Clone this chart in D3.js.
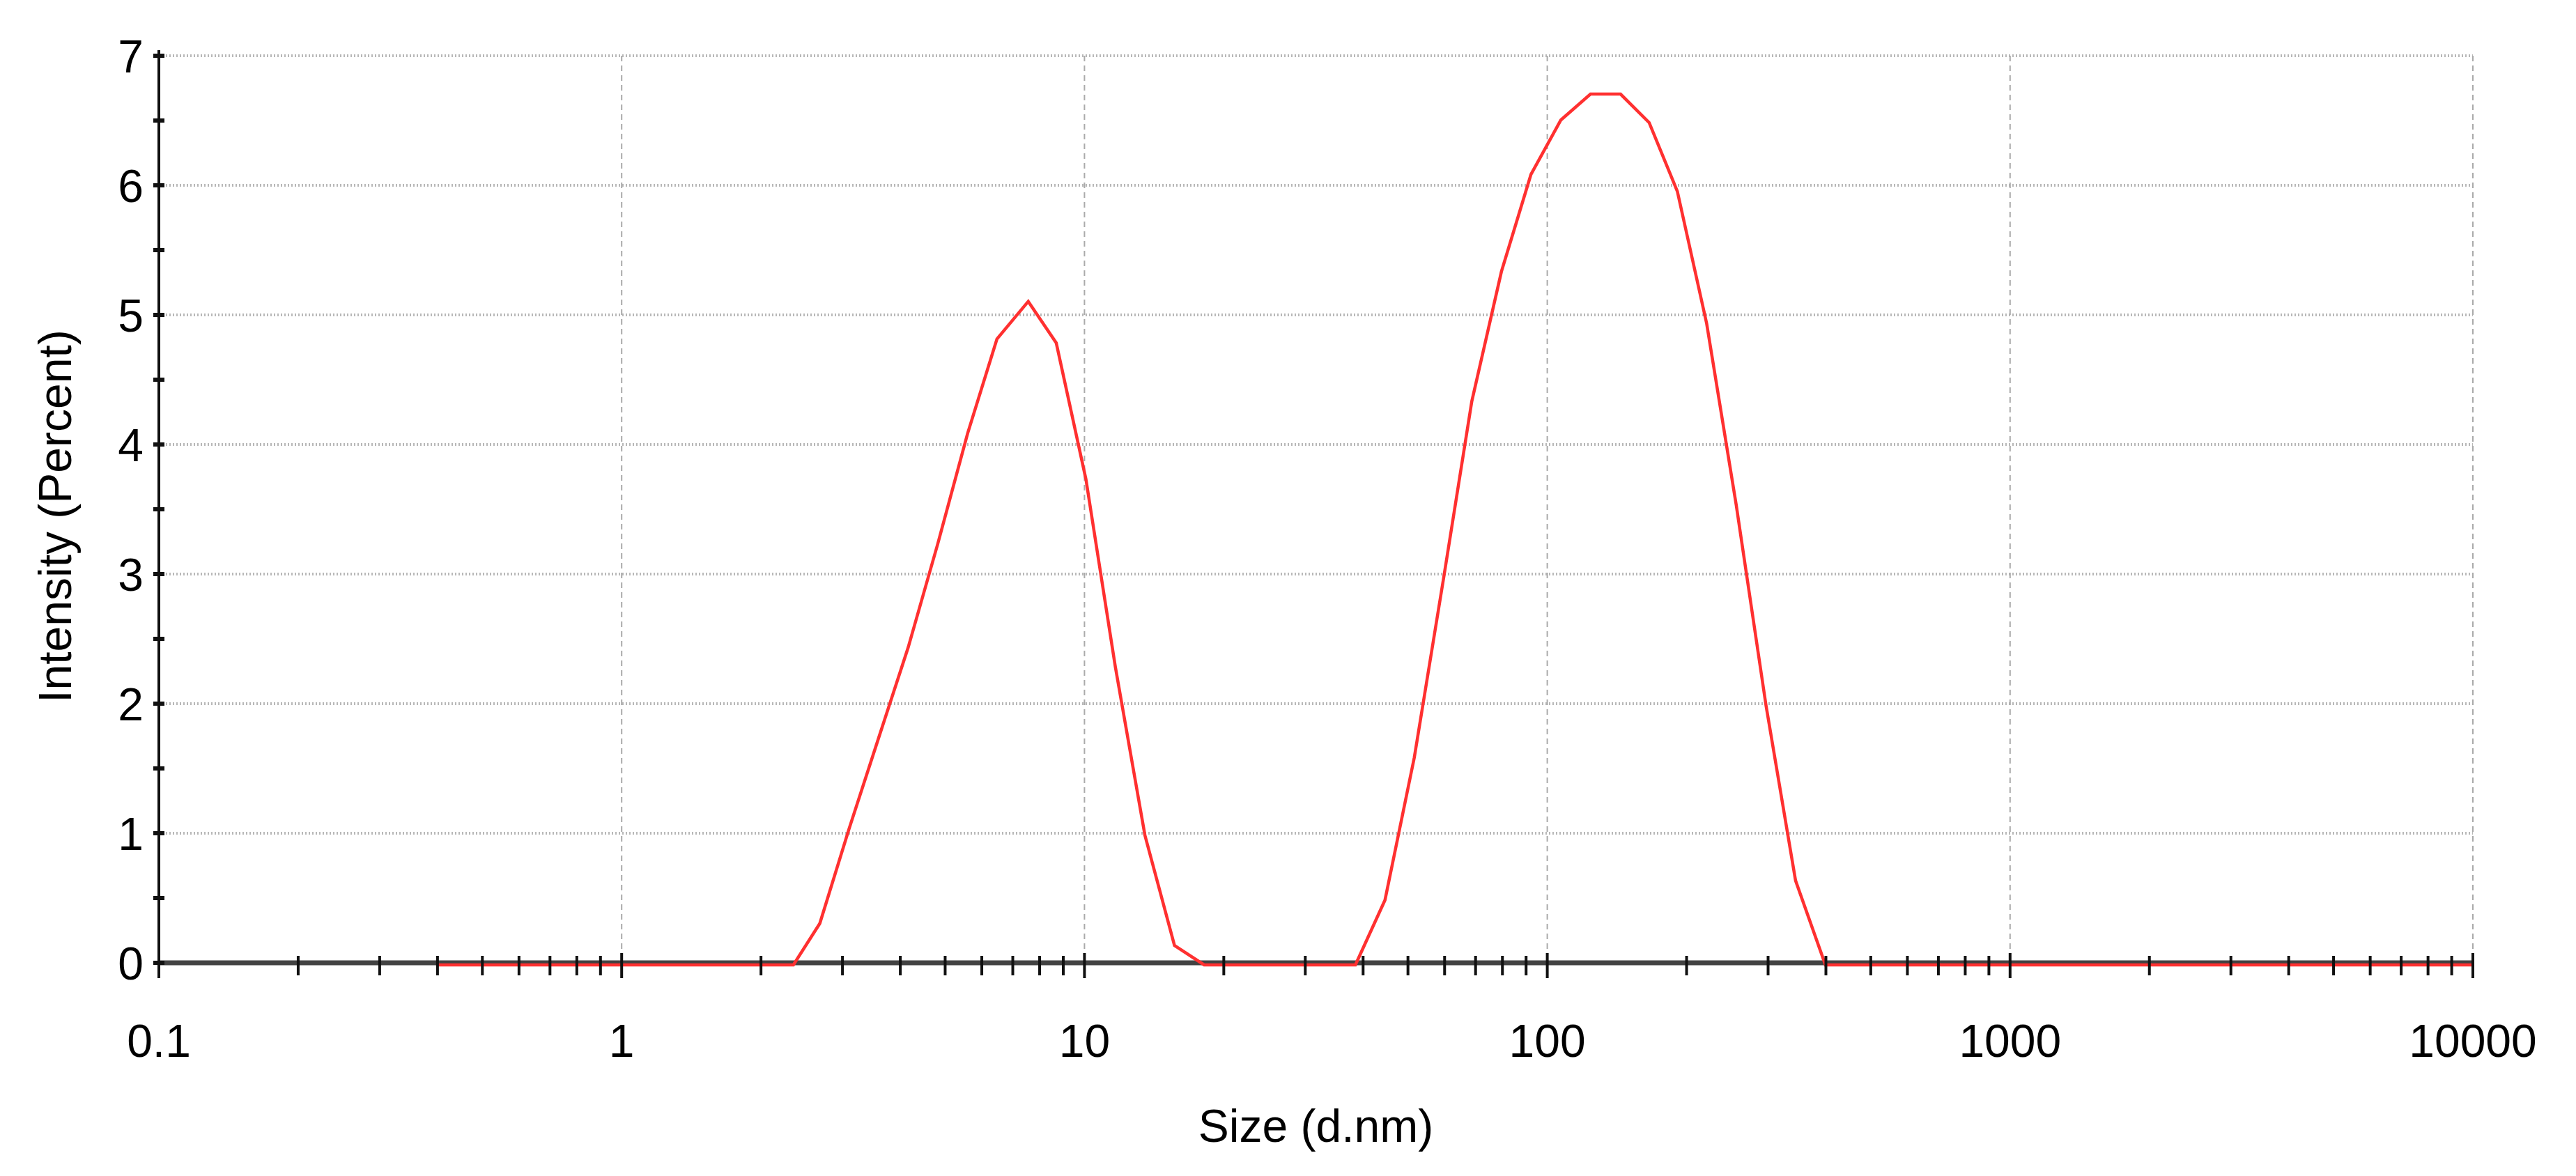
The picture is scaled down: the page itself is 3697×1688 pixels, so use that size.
<!DOCTYPE html>
<html><head><meta charset="utf-8">
<script src="https://cdn.jsdelivr.net/npm/d3@7"></script>
<style>body{margin:0;background:#fff}</style></head>
<body><svg id="c" width="3697" height="1688"></svg>
<script>
const sizes = [0.4,2.35,2.68,3.10,3.59,4.16,4.82,5.59,6.47,7.56,8.69,10.07,11.66,13.51,15.65,18.14,38.5,44.6,51.6,59.8,68.7,79.6,92.2,107,124,144,166,191,221,256,297,344,399,10000];
const intensity = [0,0,0.32,1.05,1.75,2.45,3.25,4.1,4.83,5.12,4.8,3.75,2.3,1.0,0.15,0,0,0.5,1.6,3.0,4.35,5.35,6.1,6.52,6.72,6.72,6.5,5.97,4.95,3.55,2.0,0.65,0,0];
const xTicks = [0.1,1,10,100,1000,10000];
const xTickLabels = ["0.1","1","10","100","1000","10000"];
const yTicks = [0,1,2,3,4,5,6,7];

const svg = d3.select("#c");
const L=228,R=3549,T=80,B=1382;
const x = d3.scaleLog().domain([0.1,10000]).range([L,R]);
const y = d3.scaleLinear().domain([0,7]).range([B,T]);
const font="Liberation Sans, Arial, sans-serif";

svg.append("g").selectAll("line").data(yTicks.slice(1)).join("line")
  .attr("x1",L).attr("x2",R).attr("y1",d=>y(d)).attr("y2",d=>y(d))
  .attr("stroke","#b8b8b8").attr("stroke-width",4).attr("stroke-dasharray","2,3");
svg.append("g").selectAll("line").data(xTicks.slice(1)).join("line")
  .attr("x1",d=>x(d)).attr("x2",d=>x(d)).attr("y1",T).attr("y2",B)
  .attr("stroke","#aaa").attr("stroke-width",2).attr("stroke-dasharray","8,6");

svg.append("line").attr("x1",L).attr("x2",R).attr("y1",B).attr("y2",B).attr("stroke","#222").attr("stroke-width",7).attr("opacity",0.85);
svg.append("path").datum(sizes.map((s,i)=>[s,intensity[i]]))
  .attr("d",d3.line().x(d=>x(d[0])).y(d=>y(d[1])))
  .attr("fill","none").attr("stroke","#ff3030").attr("stroke-width",4.5).attr("transform","translate(0,3)");
svg.append("line").attr("x1",L).attr("x2",L).attr("y1",T-8).attr("y2",B+22).attr("stroke","#111").attr("stroke-width",4);

const minor=[];
for(let e=-1;e<4;e++)for(let m=1;m<10;m++)minor.push(m*Math.pow(10,e));
minor.push(10000);
svg.append("g").selectAll("line").data(minor).join("line")
  .attr("x1",d=>x(d)).attr("x2",d=>x(d))
  .attr("y1",d=>xTicks.includes(d)?B-14:B-10).attr("y2",d=>xTicks.includes(d)?B+22:B+18)
  .attr("stroke","#111").attr("stroke-width",4);
svg.append("g").selectAll("line").data(d3.range(0,7.01,0.5)).join("line")
  .attr("x1",L-8).attr("x2",L+8).attr("y1",d=>y(d)).attr("y2",d=>y(d))
  .attr("stroke","#111").attr("stroke-width",6);

svg.append("g").selectAll("text").data(yTicks).join("text")
  .attr("x",L-22).attr("y",d=>y(d)).attr("dy","0.36em").attr("text-anchor","end")
  .attr("font-family",font).attr("font-size",66).text(d=>d);
svg.append("g").selectAll("text").data(xTicks).join("text")
  .attr("x",d=>x(d)).attr("y",1493).attr("dy","0.36em").attr("text-anchor","middle")
  .attr("font-family",font).attr("font-size",66).text((d,i)=>xTickLabels[i]);

svg.append("text").attr("x",(L+R)/2).attr("y",1615).attr("dy","0.36em").attr("text-anchor","middle")
  .attr("font-family",font).attr("font-size",66).text("Size (d.nm)");
svg.append("text").attr("transform",`translate(78,${(T+B)/2+10}) rotate(-90)`).attr("dy","0.36em").attr("text-anchor","middle")
  .attr("font-family",font).attr("font-size",66).text("Intensity (Percent)");
</script></body></html>
